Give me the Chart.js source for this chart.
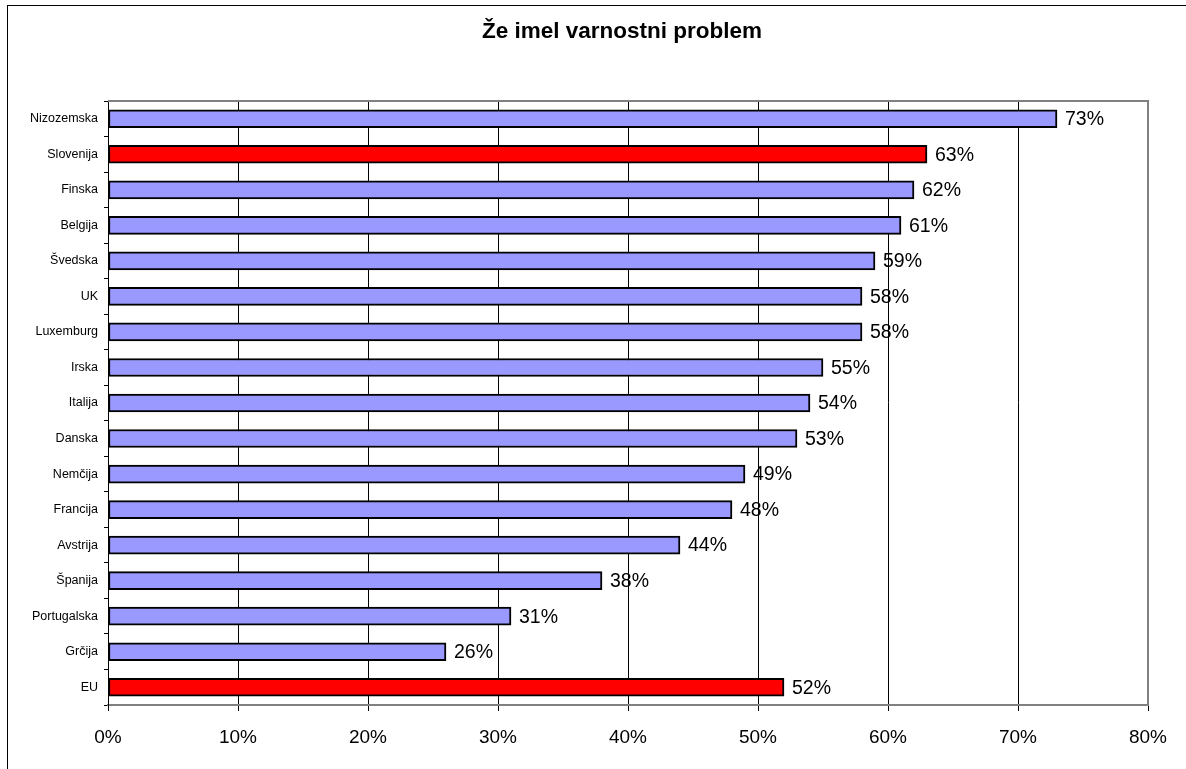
<!DOCTYPE html>
<html>
<head>
<meta charset="utf-8">
<script src="https://cdn.jsdelivr.net/npm/chart.js@4.4.1/dist/chart.umd.min.js"></script>
<style>
  body { margin: 0; background: #fff; }
  canvas { display: block; }
</style>
</head>
<body>
<canvas id="securityChart" width="1186" height="769"></canvas>
<script>
var titleText = 'Že imel varnostni problem';
var countries = ['Nizozemska', 'Slovenija', 'Finska', 'Belgija', 'Švedska', 'UK', 'Luxemburg', 'Irska',
  'Italija', 'Danska', 'Nemčija', 'Francija', 'Avstrija', 'Španija', 'Portugalska', 'Grčija', 'EU'];
var shares = [73, 63, 62, 61, 59, 58, 58, 55, 54, 53, 49, 48, 44, 38, 31, 26, 52];
var highlighted = ['Slovenija', 'EU'];
var xTicks = [0, 10, 20, 30, 40, 50, 60, 70, 80];

var FONT = '"Liberation Sans", Arial, sans-serif';

var barColors = countries.map(function(c) {
  return highlighted.indexOf(c) >= 0 ? '#ff0000' : '#9999ff';
});

// frame, title, plot border and value labels
var decorations = {
  id: 'decorations',
  beforeDraw: function(chart) {
    var ctx = chart.ctx;
    ctx.save();
    ctx.fillStyle = '#fff';
    ctx.fillRect(0, 0, chart.width, chart.height);
    ctx.strokeStyle = '#000';
    ctx.lineWidth = 1;
    ctx.strokeRect(7.5, 5.5, chart.width + 10, chart.height + 10);
    ctx.fillStyle = '#000';
    ctx.font = 'bold 22.5px ' + FONT;
    ctx.textAlign = 'center';
    ctx.textBaseline = 'middle';
    ctx.fillText(titleText, 622, 32);
    ctx.restore();
  },
  afterDatasetsDraw: function(chart) {
    var ctx = chart.ctx;
    var a = chart.chartArea;
    ctx.save();
    ctx.strokeStyle = '#808080';
    ctx.lineWidth = 2;
    ctx.beginPath();
    ctx.moveTo(a.left, a.top);
    ctx.lineTo(a.right, a.top);
    ctx.lineTo(a.right, a.bottom);
    ctx.stroke();
    ctx.fillStyle = '#000';
    ctx.font = '19.5px ' + FONT;
    ctx.textAlign = 'left';
    ctx.textBaseline = 'middle';
    chart.getDatasetMeta(0).data.forEach(function(bar, i) {
      ctx.fillText(shares[i] + '%', bar.x + 8, bar.y + 1);
    });
    ctx.restore();
  }
};

var ctx = document.getElementById('securityChart').getContext('2d');
new Chart(ctx, {
  type: 'bar',
  data: {
    labels: countries,
    datasets: [{
      data: shares,
      backgroundColor: barColors,
      borderColor: '#000',
      borderWidth: 2,
      borderSkipped: false,
      barThickness: 18
    }]
  },
  options: {
    indexAxis: 'y',
    responsive: false,
    animation: false,
    layout: { padding: { top: 101, right: 38, bottom: 0, left: 0 } },
    plugins: {
      legend: { display: false },
      title: { display: false },
      tooltip: { enabled: false }
    },
    scales: {
      x: {
        min: 0,
        max: 80,
        afterBuildTicks: function(axis) {
          axis.ticks = xTicks.map(function(v) { return { value: v }; });
        },
        afterFit: function(axis) { axis.height = 64; },
        grid: {
          color: '#000',
          lineWidth: 1,
          tickLength: 6,
          drawTicks: true
        },
        border: { color: '#808080', width: 2 },
        ticks: {
          color: '#000',
          font: { family: FONT, size: 19 },
          padding: 15,
          maxRotation: 0,
          callback: function(v) { return v + '%'; }
        }
      },
      y: {
        afterFit: function(axis) { axis.width = 108; },
        grid: {
          offset: true,
          drawOnChartArea: false,
          drawTicks: true,
          tickLength: 4,
          color: '#000'
        },
        border: { color: '#000', width: 1 },
        ticks: {
          color: '#000',
          font: { family: FONT, size: 12.5 },
          padding: 6
        }
      }
    }
  },
  plugins: [decorations]
});
</script>
</body>
</html>
